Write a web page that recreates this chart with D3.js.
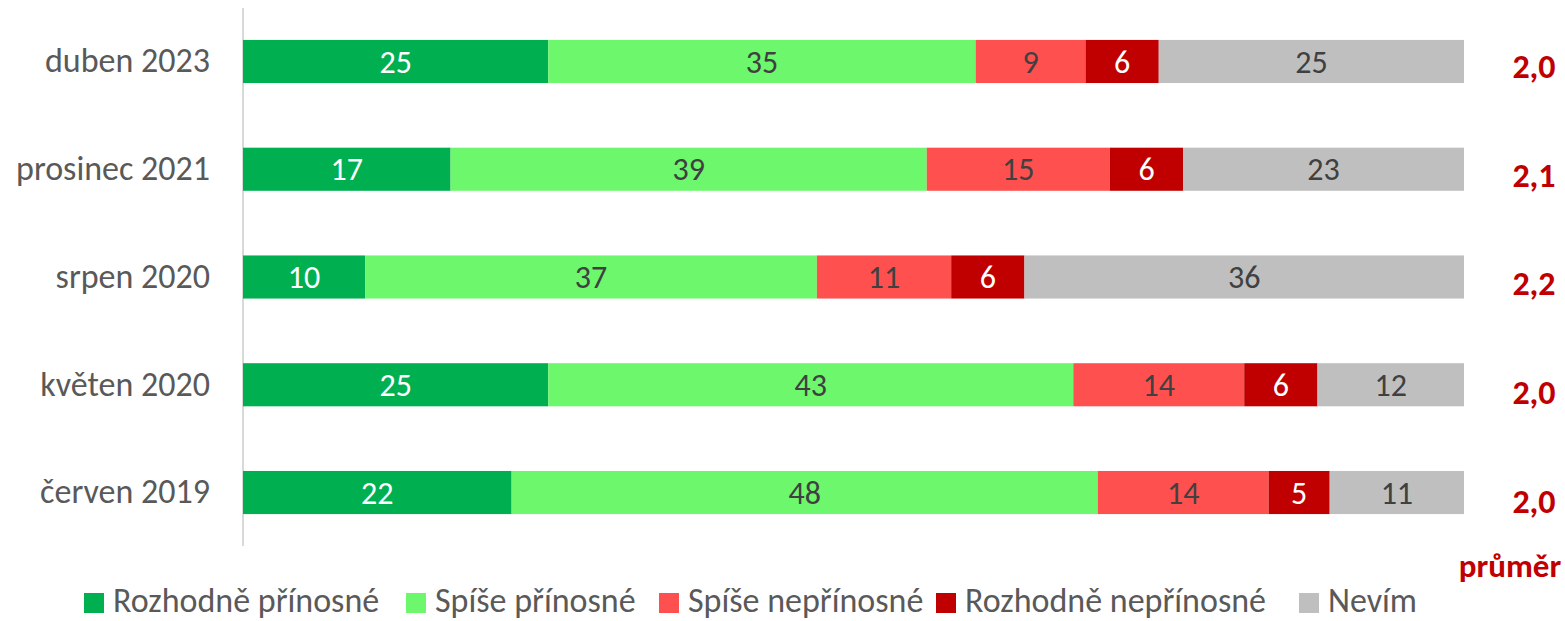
<!DOCTYPE html>
<html><head><meta charset="utf-8">
<script src="https://cdn.jsdelivr.net/npm/d3@7"></script>
<style>
body{margin:0;background:#fff;}
svg text{font-family:Carlito,Calibri,"Open Sans",sans-serif;}
</style></head>
<body><svg id="c" width="1565" height="621"></svg>
<script>
const categories = ["duben 2023","prosinec 2021","srpen 2020","květen 2020","červen 2019"];
const seriesNames = ["Rozhodně přínosné","Spíše přínosné","Spíše nepřínosné","Rozhodně nepřínosné","Nevím"];
const rozhodnePrinosne = [25,17,10,25,22];
const spisePrinosne = [35,39,37,43,48];
const spiseNeprinosne = [9,15,11,14,14];
const rozhodneNeprinosne = [6,6,6,6,5];
const nevim = [25,23,36,12,11];
const averages = ["2,0","2,1","2,2","2,0","2,0"];
const averageLabel = "průměr";
const colors = ["#00B050","#6CF76C","#FF5050","#C00000","#BFBFBF"];
const labelColors = ["#ffffff","#404040","#404040","#ffffff","#404040"];

const seriesValues = [rozhodnePrinosne,spisePrinosne,spiseNeprinosne,rozhodneNeprinosne,nevim];
const data = categories.map((c,i)=>{const o={cat:c}; seriesNames.forEach((s,j)=>o[s]=seriesValues[j][i]); return o;});
const stacked = d3.stack().keys(seriesNames)(data);

const FONT = 'Carlito,Calibri,"Open Sans",sans-serif';
const svg = d3.select("#c");
const x = d3.scaleLinear().domain([0,100]).range([243,1464]);
const y = d3.scaleBand().domain(categories).range([7.6,546.4]).paddingInner(0.6).paddingOuter(0.3);
// averages column sits on its own point scale
const yAvg = d3.scalePoint().domain(categories).range([66,500.7]);

svg.append("line").attr("x1",243).attr("x2",243).attr("y1",8).attr("y2",546)
  .attr("stroke","#d9d9d9").attr("stroke-width",2);

const g = svg.append("g");
stacked.forEach((layer,j)=>{
  const lg = g.append("g");
  lg.selectAll("rect").data(layer).enter().append("rect")
    .attr("x",d=>x(d[0])).attr("width",d=>x(d[1])-x(d[0]))
    .attr("y",d=>y(d.data.cat)).attr("height",y.bandwidth())
    .attr("fill",colors[j]);
  lg.selectAll("text").data(layer).enter().append("text")
    .attr("x",d=>(x(d[0])+x(d[1]))/2).attr("y",d=>y(d.data.cat)+y.bandwidth()/2)
    .attr("dy","0.35em").attr("text-anchor","middle")
    .attr("font-size",32).attr("fill",labelColors[j])
    .text(d=>d[1]-d[0]);
});

const yAxis = d3.axisLeft(y).tickSize(0).tickPadding(33);
const ax = svg.append("g").attr("transform","translate(243,0)").call(yAxis);
ax.select(".domain").remove();
ax.selectAll("text").attr("font-size",34).attr("fill","#595959").style("font-family",FONT);

svg.append("g").selectAll("text").data(categories).enter().append("text")
  .attr("x",1534).attr("y",d=>yAvg(d)).attr("dy","0.35em")
  .attr("text-anchor","middle").attr("font-size",34).attr("font-weight","bold")
  .attr("fill","#C00000").text((d,i)=>averages[i]);

svg.append("text").attr("x",1510).attr("y",577).attr("text-anchor","middle")
  .attr("font-size",33).attr("font-weight","bold").attr("fill","#C00000").text(averageLabel);

const legendX = [84,406,659,936,1299];
const leg = svg.append("g");
seriesNames.forEach((s,j)=>{
  leg.append("rect").attr("x",legendX[j]).attr("y",593).attr("width",20).attr("height",20).attr("fill",colors[j]);
  leg.append("text").attr("x",legendX[j]+29).attr("y",612).attr("font-size",34).attr("fill","#595959").text(s);
});
</script></body></html>
